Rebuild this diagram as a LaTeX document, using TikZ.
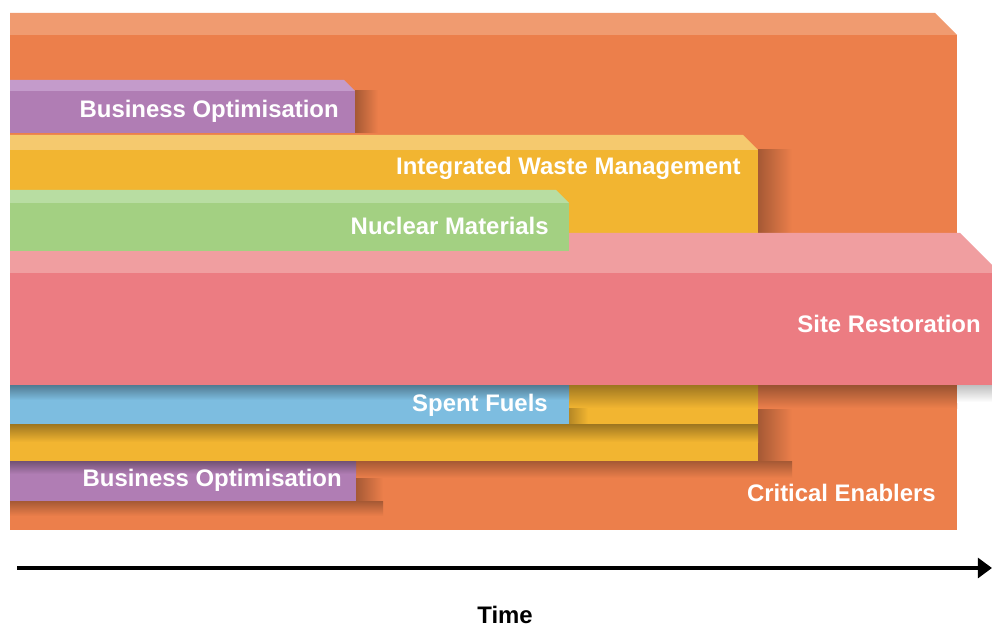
\documentclass[tikz,border=0pt]{standalone}
\usepackage{fontspec}
\setmainfont{Liberation Sans}
\usepackage{xcolor}
\usepackage{tikz}
\usetikzlibrary{arrows.meta}

\definecolor{enabfront}{RGB}{236,127,75}
\definecolor{enabtop}{RGB}{240,155,112}
\definecolor{optfront}{RGB}{176,125,180}
\definecolor{opttop}{RGB}{196,155,203}
\definecolor{wastefront}{RGB}{242,181,49}
\definecolor{wastetop}{RGB}{245,201,110}
\definecolor{nucfront}{RGB}{163,208,130}
\definecolor{nuctop}{RGB}{184,221,162}
\definecolor{sitefront}{RGB}{236,124,130}
\definecolor{sitetop}{RGB}{240,158,160}
\definecolor{fuelfront}{RGB}{125,189,224}

\tikzset{
	lbl/.style={anchor=east, inner sep=0pt, text=white, font=\fontsize{17}{20}\selectfont\bfseries},
	timearrow/.style={line width=3.5pt, -{Triangle[length=10pt,width=14pt]}}
}

% front face, then bevelled top face
\newcommand{\slab}[7]{%
	\fill[#6] (#1,#3) rectangle (#2,#4);
	\fill[#7] (#1,#3) -- (#1,#3-#5) -- (#2-#5,#3-#5) -- (#2,#3) -- cycle;
}

\begin{document}
\begin{tikzpicture}[x=0.025cm, y=-0.025cm]
	\clip (0,0) rectangle (992,629);
	\fill[white] (0,0) rectangle (992,629);

	\slab{10}{957}{35}{530}{22}{enabfront}{enabtop}
	\shade[left color=enabfront!70!black, right color=enabfront] (355,91) rectangle (378,133);
	\slab{10}{355}{91}{133}{11}{optfront}{opttop}
	\shade[left color=enabfront!70!black, right color=enabfront] (758,150) rectangle (792,461);
	\slab{10}{758}{150}{461}{15}{wastefront}{wastetop}
	\slab{10}{1000}{273}{385}{40}{sitefront}{sitetop}
	\slab{10}{569}{203}{251}{13}{nucfront}{nuctop}
	\shade[top color=enabfront!65!black, bottom color=enabfront] (758,385) rectangle (957,408);
	\shade[top color=white!75!black, bottom color=white] (957,385) rectangle (992,402);
	\shade[top color=wastefront!65!black, bottom color=wastefront] (569,385) rectangle (758,408);
	\fill[fuelfront] (10,385) rectangle (569,424);
	\shade[top color=fuelfront!65!black, bottom color=fuelfront] (10,385) rectangle (569,400);
	\shade[left color=wastefront!75!black, right color=wastefront] (569,408) rectangle (588,424);
	\shade[top color=wastefront!65!black, bottom color=wastefront] (10,424) rectangle (758,442);
	\shade[top color=enabfront!70!black, bottom color=enabfront] (356,461) rectangle (792,478);
	\shade[left color=enabfront!70!black, right color=enabfront] (356,478) rectangle (383,512);
	\fill[optfront] (10,461) rectangle (356,501);
	\shade[top color=optfront!65!black, bottom color=optfront] (10,461) rectangle (356,474);
	\shade[top color=enabfront!70!black, bottom color=enabfront] (10,501) rectangle (383,516);

	\node[lbl] (bizopttop) at (339,111) {Business Optimisation};
	\node[lbl] (wastemgmt) at (741,168) {Integrated Waste Management};
	\node[lbl] (nucmat) at (549,226) {Nuclear Materials};
	\node[lbl] (siterest) at (981,324) {Site Restoration};
	\node[lbl] (spentfuel) at (548,405) {Spent Fuels};
	\node[lbl] (bizoptbot) at (342,480) {Business Optimisation};
	\node[lbl] (critenab) at (936,493) {Critical Enablers};

	\coordinate (tstart) at (17,568);
	\coordinate (tend) at (992,568);
	\draw[timearrow] (tstart) -- (tend);
	\node[inner sep=0pt, font=\fontsize{17}{20}\selectfont\bfseries] (time) at (505,615) {Time};
\end{tikzpicture}
\end{document}
